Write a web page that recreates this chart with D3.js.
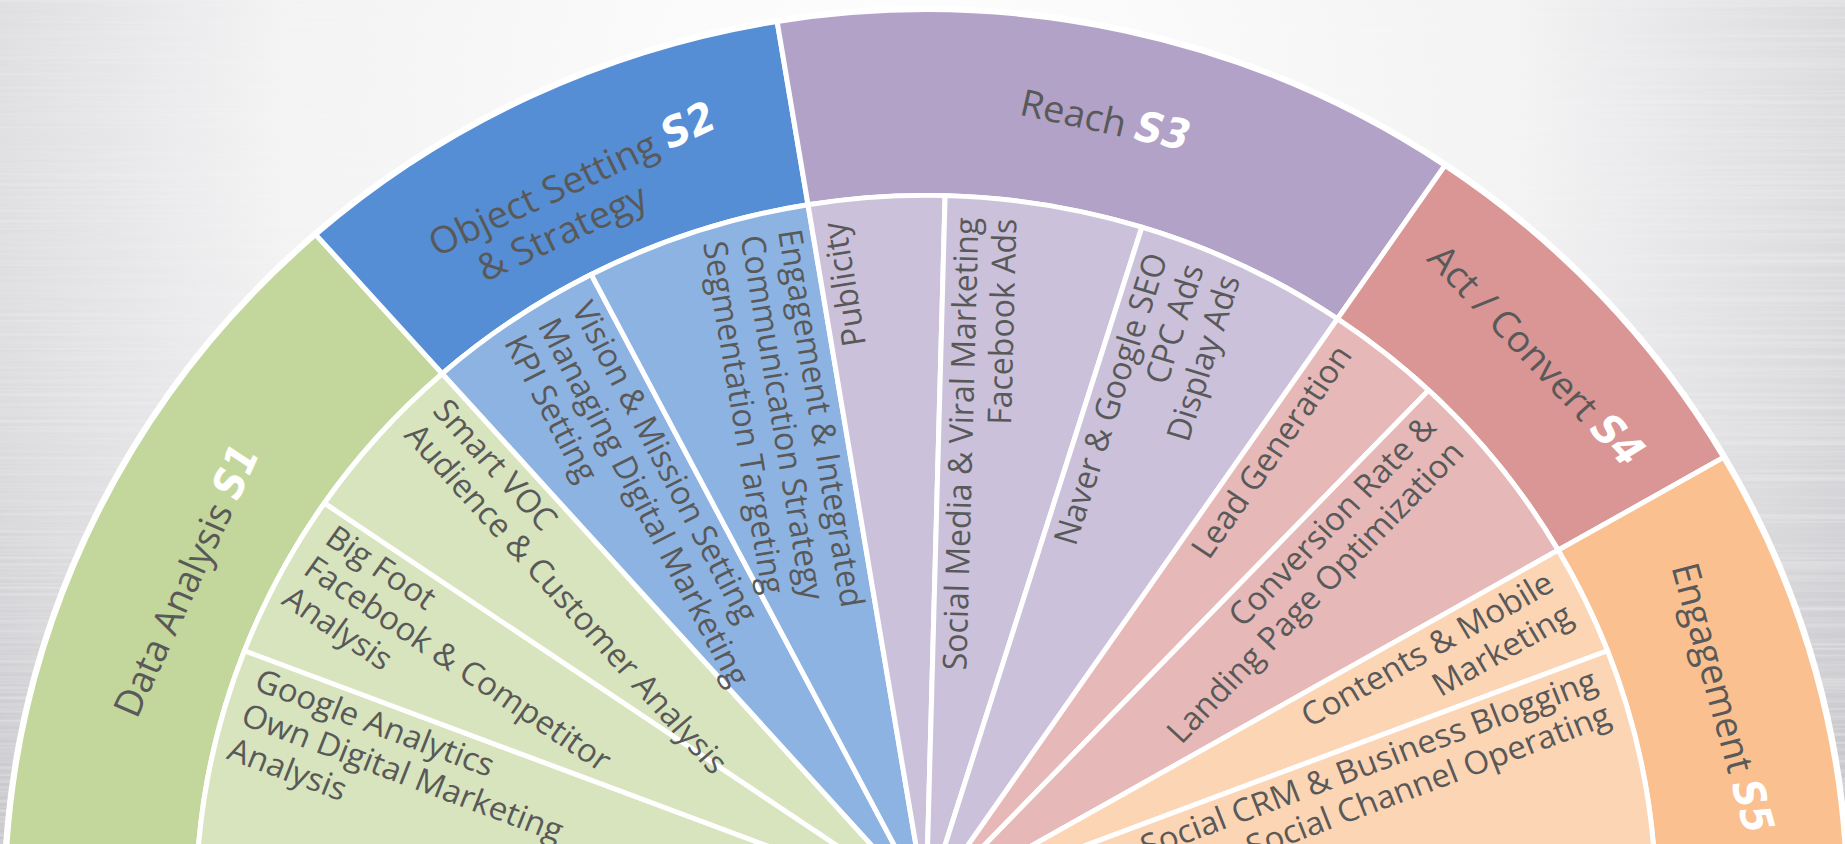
<!DOCTYPE html>
<html><head><meta charset="utf-8">
<script src="https://cdn.jsdelivr.net/npm/d3@7"></script>
<style>html,body{margin:0;padding:0;overflow:hidden;background:#eee}</style>
</head><body><svg id="c" width="1845" height="844"></svg>
<script>
// ---------- data ----------
const groupLines = [["Data Analysis"], ["Object Setting", "& Strategy"], ["Reach"], ["Act / Convert"], ["Engagement"]];
const groupTags = ["S1", "S2", "S3", "S4", "S5"];
const itemLines = [
  ["Google Analytics", "Own Digital Marketing", "Analysis"],
  ["Big Foot", "Facebook & Competitor", "Analysis"],
  ["Smart VOC", "Audience & Customer Analysis"],
  ["Vision & Mission Setting", "Managing Digital Marketing", "KPI Setting"],
  ["Engagement & Integrated", "Communication Strategy", "Segmentation Targeting"],
  ["Publicity"],
  ["Social Media & Viral Marketing", "Facebook Ads"],
  ["Naver & Google SEO", "CPC Ads", "Display Ads"],
  ["Lead Generation"],
  ["Conversion Rate &", "Landing Page Optimization"],
  ["Contents & Mobile", "Marketing"],
  ["Social CRM & Business Blogging", "Social Channel Operating"]
];
const itemGroup = [0, 0, 0, 1, 1, 2, 2, 2, 3, 3, 4, 4];
const itemShare = [21, 13.5, 14, 14.2, 18, 10.8, 15.7, 17.1, 9.2, 16.5, 9, 21];

// ---------- styles / layout ----------
const groupOuterColors = ["#c3d69b", "#558ed5", "#b3a2c7", "#d99694", "#fac090"];
const groupInnerColors = ["#d7e4bd", "#8db3e2", "#ccc1da", "#e6b9b8", "#fcd5b5"];
const groupReadsInward = [true, true, false, false, false];
const groupLabelRadius = [798, 790, 814, 818, 810];

const W = 1845, H = 844, cx = 926, cy = 905, k = 0.972;
const R0 = 0, R1 = 730, R2 = 921;
const svg = d3.select("#c");
const defs = svg.append("defs");
const bg = defs.append("radialGradient").attr("id", "bg").attr("gradientUnits", "userSpaceOnUse")
  .attr("cx", 900).attr("cy", 120).attr("r", 1250);
[[0, "#ffffff"], [0.5, "#f3f3f4"], [0.75, "#dcdcdf"], [1, "#bdbdc2"]].forEach(s =>
  bg.append("stop").attr("offset", s[0]).attr("stop-color", s[1]));
const f = defs.append("filter").attr("id", "brush").attr("x", 0).attr("y", 0).attr("width", "100%").attr("height", "100%");
f.append("feTurbulence").attr("type", "fractalNoise").attr("baseFrequency", "0.002 0.3").attr("numOctaves", 2).attr("seed", 4);
f.append("feColorMatrix").attr("type", "matrix").attr("values", "0 0 0 0 1  0 0 0 0 1  0 0 0 0 1  1.2 0 0 0 -0.45");
const mg = defs.append("radialGradient").attr("id", "mg").attr("gradientUnits", "userSpaceOnUse")
  .attr("cx", 900).attr("cy", 120).attr("r", 1250);
[[0, "#000"], [0.55, "#333"], [1, "#fff"]].forEach(s => mg.append("stop").attr("offset", s[0]).attr("stop-color", s[1]));
defs.append("mask").attr("id", "mk").append("rect").attr("width", W).attr("height", H).attr("fill", "url(#mg)");

svg.append("rect").attr("width", W).attr("height", H).attr("fill", "url(#bg)");
svg.append("rect").attr("width", W).attr("height", H).attr("filter", "url(#brush)").attr("mask", "url(#mk)").attr("opacity", 0.8);

const g = svg.append("g").attr("transform", `translate(${cx},${cy}) scale(1,${k})`);
const pie = d3.pie().sort(null).value(d => d).startAngle(-Math.PI / 2).endAngle(Math.PI / 2);
const itemArcs = pie(itemShare).map((a, i) => Object.assign({}, a, { i: i, group: itemGroup[i] }));
const groupArcs = groupTags.map((t, gi) => {
  const its = itemArcs.filter(a => a.group === gi);
  return { gi: gi, startAngle: d3.min(its, a => a.startAngle), endAngle: d3.max(its, a => a.endAngle) };
});
const arcOuter = d3.arc().innerRadius(R1).outerRadius(R2);
const arcInner = d3.arc().innerRadius(R0).outerRadius(R1);

g.append("path").attr("d", d3.arc().innerRadius(R2 - 2).outerRadius(R2 + 4)({ startAngle: -Math.PI / 2 - 0.01, endAngle: Math.PI / 2 + 0.01 }))
  .attr("fill", "#fff");
g.selectAll("path.outer").data(groupArcs).join("path").attr("class", "outer")
  .attr("d", arcOuter).attr("fill", d => groupOuterColors[d.gi])
  .attr("stroke", "#fff").attr("stroke-width", 5).attr("stroke-linejoin", "round");
g.selectAll("path.inner").data(itemArcs).join("path").attr("class", "inner")
  .attr("d", arcInner).attr("fill", d => groupInnerColors[d.group])
  .attr("stroke", "#fff").attr("stroke-width", 5).attr("stroke-linejoin", "round");

const txtColor = "#595959";
const font = "'Open Sans', 'Noto Sans', sans-serif";

// outer group labels
groupArcs.forEach(d => {
  const mid = (d.startAngle + d.endAngle) / 2, deg = mid * 180 / Math.PI;
  const lines = groupLines[d.gi], n = lines.length, lh = 44;
  const b1 = groupLabelRadius[d.gi] + (n - 1) * lh / 2;
  const gg = g.append("g").attr("transform", `rotate(${deg})`);
  const t1 = gg.append("text").attr("x", 0).attr("y", -b1).attr("text-anchor", "middle")
    .attr("font-family", font).attr("font-size", 38).attr("fill", txtColor);
  const nameSpan = t1.append("tspan").text(lines[0]);
  t1.append("tspan").text(" ");
  t1.append("tspan").text(groupTags[d.gi]).attr("fill", "#fff").attr("font-weight", "bold")
    .attr("font-style", "italic").attr("font-size", 43)
    .attr("font-family", "'Liberation Sans Narrow', 'DejaVu Sans Condensed', 'DejaVu Sans', sans-serif")
    .attr("font-stretch", "condensed");
  const Wt = t1.node().getComputedTextLength();
  const Wn = nameSpan.node().getComputedTextLength();
  for (let j = 1; j < n; j++) {
    gg.append("text").attr("x", -Wt / 2 + Wn / 2).attr("y", -(b1 - j * lh)).attr("text-anchor", "middle")
      .attr("font-family", font).attr("font-size", 38).attr("fill", txtColor).text(lines[j]);
  }
});

// inner item labels
const Lanchor = 708, d1 = 34, ilh = 38;
itemArcs.forEach(d => {
  const inward = groupReadsInward[d.group];
  const th = inward ? d.endAngle : d.startAngle;
  const u = [Math.sin(th), -Math.cos(th)];
  const nv = inward ? [-Math.cos(th), -Math.sin(th)] : [Math.cos(th), Math.sin(th)];
  const rot = th * 180 / Math.PI + (inward ? 90 : -90);
  itemLines[d.i].forEach((line, j) => {
    const dd = d1 + j * ilh;
    const x = Lanchor * u[0] + dd * nv[0], y = Lanchor * u[1] + dd * nv[1];
    g.append("text").attr("transform", `translate(${x},${y}) rotate(${rot})`)
      .attr("text-anchor", inward ? "start" : "end")
      .attr("font-family", font).attr("font-size", 33).attr("fill", txtColor).text(line);
  });
});
</script></body></html>
